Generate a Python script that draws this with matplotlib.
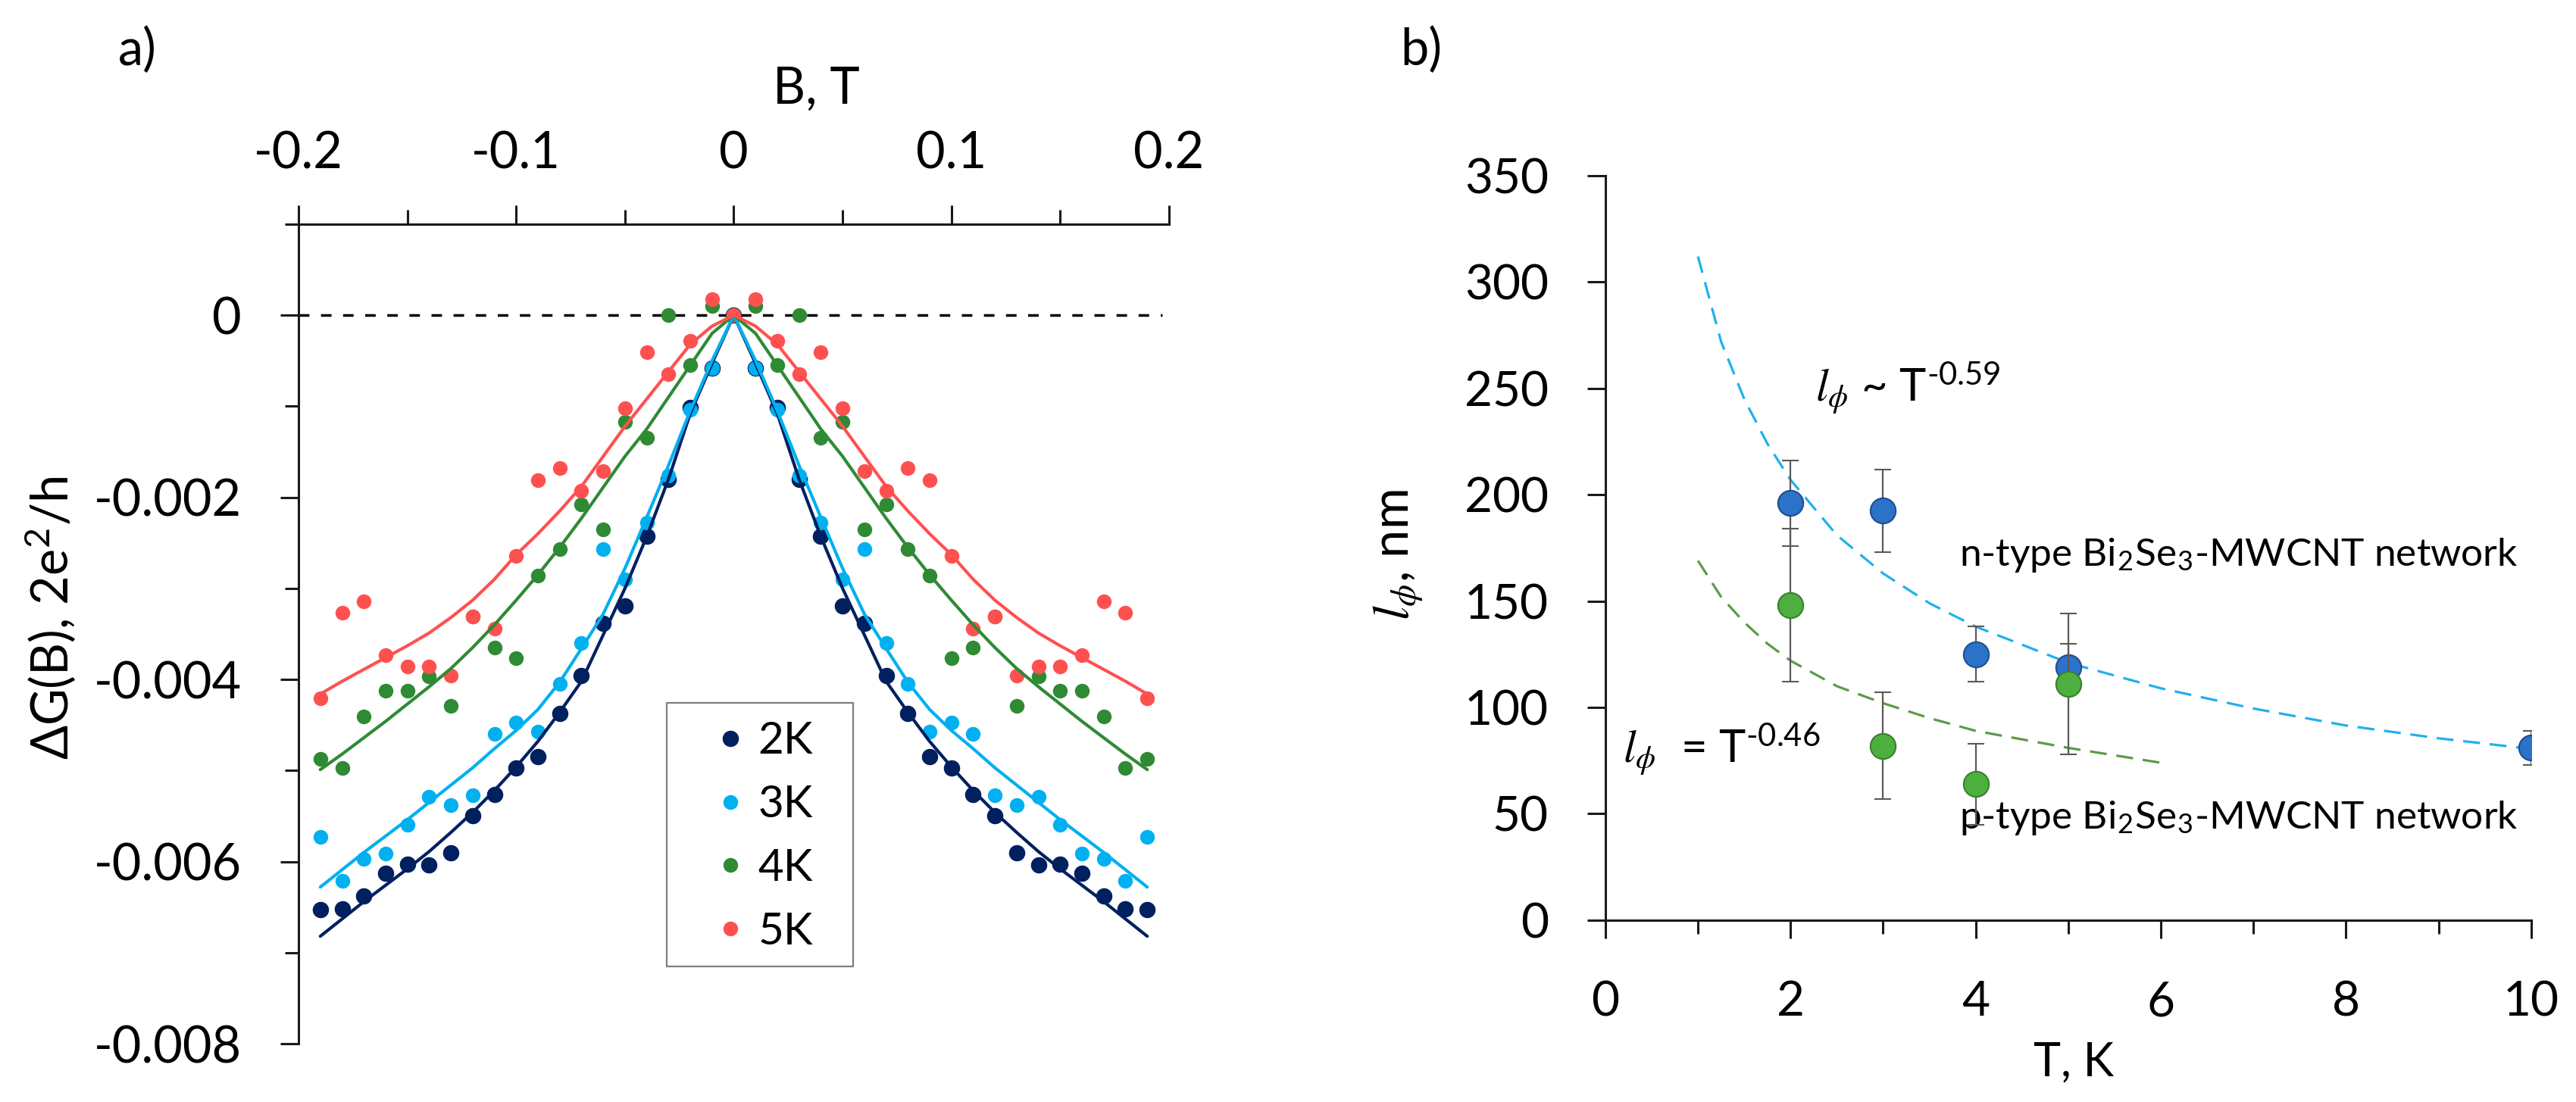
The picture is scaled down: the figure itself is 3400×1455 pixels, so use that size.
import matplotlib
matplotlib.use('Agg')
import matplotlib.pyplot as plt
import numpy as np
from matplotlib.lines import Line2D
from matplotlib.patches import Rectangle

plt.rcParams['font.family'] = ['Lato', 'DejaVu Sans']
plt.rcParams['mathtext.fontset'] = 'custom'
plt.rcParams['mathtext.rm'] = 'Lato'
plt.rcParams['mathtext.it'] = 'STIXGeneral:italic'
plt.rcParams['mathtext.bf'] = 'Lato:bold'
plt.rcParams['axes.unicode_minus'] = False

# ---- a) magnetoconductance dG(B), B = -0.19 ... 0.19 T in 0.01 steps
b_field = np.round(np.arange(-19, 20) * 0.01, 2)

dg_2k = [-0.00653, -0.00652, -0.00638, -0.00613, -0.00603, -0.00604, -0.00590, -0.00550, -0.00526, -0.00497,
         -0.00485, -0.00437, -0.00396, -0.00338, -0.00319, -0.00243, -0.00180, -0.00101, -0.00058, 0.0,
         -0.00058, -0.00101, -0.00180, -0.00243, -0.00319, -0.00338, -0.00396, -0.00437, -0.00485, -0.00497,
         -0.00526, -0.00550, -0.00590, -0.00604, -0.00603, -0.00613, -0.00638, -0.00652, -0.00653]
dg_3k = [-0.00573, -0.00621, -0.00597, -0.00591, -0.00560, -0.00529, -0.00538, -0.00527, -0.00460, -0.00447,
         -0.00457, -0.00405, -0.00360, -0.00257, -0.00290, -0.00228, -0.00176, -0.00104, -0.00058, 0.0,
         -0.00058, -0.00104, -0.00176, -0.00228, -0.00290, -0.00257, -0.00360, -0.00405, -0.00457, -0.00447,
         -0.00460, -0.00527, -0.00538, -0.00529, -0.00560, -0.00591, -0.00597, -0.00621, -0.00573]
dg_4k = [-0.00487, -0.00497, -0.00441, -0.00412, -0.00412, -0.00397, -0.00429, -0.00331, -0.00365, -0.00377,
         -0.00286, -0.00257, -0.00208, -0.00235, -0.00117, -0.00135, 0.0, -0.00055, 0.0001, 0.0,
         0.0001, -0.00055, 0.0, -0.00135, -0.00117, -0.00235, -0.00208, -0.00257, -0.00286, -0.00377,
         -0.00365, -0.00331, -0.00429, -0.00397, -0.00412, -0.00412, -0.00441, -0.00497, -0.00487]
dg_5k = [-0.00421, -0.00327, -0.00314, -0.00373, -0.00386, -0.00386, -0.00396, -0.00331, -0.00344, -0.00264,
         -0.00181, -0.00168, -0.00193, -0.00171, -0.00102, -0.00041, -0.00065, -0.00028, 0.00018, 0.0,
         0.00018, -0.00028, -0.00065, -0.00041, -0.00102, -0.00171, -0.00193, -0.00168, -0.00181, -0.00264,
         -0.00344, -0.00331, -0.00396, -0.00386, -0.00386, -0.00373, -0.00314, -0.00327, -0.00421]

fit_2k = [-0.00682, -0.00663, -0.00644, -0.00626, -0.00608, -0.00589, -0.00568, -0.00546, -0.00522, -0.00496,
          -0.00468, -0.00436, -0.00402, -0.00351, -0.00300, -0.00243, -0.00180, -0.00108, -0.00053, 0.0,
          -0.00053, -0.00108, -0.00180, -0.00243, -0.00300, -0.00351, -0.00402, -0.00436, -0.00468, -0.00496,
          -0.00522, -0.00546, -0.00568, -0.00589, -0.00608, -0.00626, -0.00644, -0.00663, -0.00682]
fit_3k = [-0.00628, -0.00609, -0.00590, -0.00572, -0.00554, -0.00535, -0.00516, -0.00497, -0.00476, -0.00456,
          -0.00433, -0.00403, -0.00366, -0.00328, -0.00278, -0.00222, -0.00165, -0.00105, -0.00050, 0.0,
          -0.00050, -0.00105, -0.00165, -0.00222, -0.00278, -0.00328, -0.00366, -0.00403, -0.00433, -0.00456,
          -0.00476, -0.00497, -0.00516, -0.00535, -0.00554, -0.00572, -0.00590, -0.00609, -0.00628]
fit_4k = [-0.00499, -0.00482, -0.00464, -0.00446, -0.00427, -0.00408, -0.00388, -0.00365, -0.00340, -0.00313,
          -0.00285, -0.00255, -0.00223, -0.00189, -0.00155, -0.00125, -0.00090, -0.00055, -0.00020, 0.0,
          -0.00020, -0.00055, -0.00090, -0.00125, -0.00155, -0.00189, -0.00223, -0.00255, -0.00285, -0.00313,
          -0.00340, -0.00365, -0.00388, -0.00408, -0.00427, -0.00446, -0.00464, -0.00482, -0.00499]
fit_5k = [-0.00416, -0.00402, -0.00389, -0.00376, -0.00363, -0.00349, -0.00332, -0.00313, -0.00290, -0.00263,
          -0.00240, -0.00215, -0.00188, -0.00155, -0.00122, -0.00092, -0.00062, -0.00032, -0.00012, 0.0,
          -0.00012, -0.00032, -0.00062, -0.00092, -0.00122, -0.00155, -0.00188, -0.00215, -0.00240, -0.00263,
          -0.00290, -0.00313, -0.00332, -0.00349, -0.00363, -0.00376, -0.00389, -0.00402, -0.00416]

temp_labels = ['2K', '3K', '4K', '5K']
temp_colors = ['#002060', '#00b0f0', '#2f8a34', '#ff5050']

b_ticks = [-0.2, -0.1, 0.0, 0.1, 0.2]
b_tick_labels = ['-0.2', '-0.1', '0', '0.1', '0.2']
g_ticks = [-0.008, -0.006, -0.004, -0.002, 0.0]
g_tick_labels = ['-0.008', '-0.006', '-0.004', '-0.002', '0']

# ---- b) phase coherence length vs temperature
t_n = [2, 3, 4, 5, 10]
lphi_n = [196, 192.5, 125, 119, 81]
err_n = [20, 19.5, 13, 11, 8]
t_p = [2, 3, 4, 5]
lphi_p = [148, 82, 64, 111]
err_p = [36, 25, 19, 33]

fit_t_n = [1, 1.25, 1.5, 1.75, 2, 2.5, 3, 3.5, 4, 5, 6, 7, 8, 9, 10]
fit_l_n = [312, 272, 245, 224, 207, 181, 163, 149, 138, 121, 109, 99.5, 91.5, 85.5, 80.5]
fit_t_p = [1, 1.25, 1.5, 1.75, 2, 2.5, 3, 3.5, 4, 5, 6]
fit_l_p = [169, 152, 140, 130, 122, 110, 102, 95, 89, 81, 74]

fig = plt.figure(figsize=(34, 14.55), dpi=100)
axis_col = '#1a1a1a'

# ================= panel a =================
ax1 = fig.add_axes([0.1159, 0.0529, 0.3379, 0.7437])
for vals, col in zip([dg_2k, dg_3k, dg_4k, dg_5k], temp_colors):
    ms = 15.5 if col == '#002060' else 14
    ax1.plot(b_field, vals, 'o', color=col, ms=ms, mec='none', zorder=3)
for vals, col in zip([fit_2k, fit_3k, fit_4k, fit_5k], temp_colors):
    ax1.plot(b_field, vals, '-', color=col, lw=3, zorder=4, solid_capstyle='round')
ax1.axhline(0, xmax=0.992, color='black', lw=2.5, dashes=(4, 4.4), zorder=2)

ax1.set_xlim(-0.2, 0.2)
ax1.set_ylim(-0.008, 0.001)
ax1.xaxis.tick_top()
ax1.set_xticks(b_ticks)
ax1.set_xticklabels(b_tick_labels)
ax1.set_xticks([-0.15, -0.05, 0.05, 0.15], minor=True)
ax1.set_yticks(g_ticks)
ax1.set_yticklabels(g_tick_labels)
ax1.set_yticks([-0.007, -0.005, -0.003, -0.001, 0.001], minor=True)
for s in ['bottom', 'right']:
    ax1.spines[s].set_visible(False)
for s in ['top', 'left']:
    ax1.spines[s].set_linewidth(2.2)
    ax1.spines[s].set_color(axis_col)
ax1.tick_params(axis='x', which='major', direction='out', length=18, width=2.2,
                pad=26, labelsize=48, color=axis_col)
ax1.tick_params(axis='x', which='minor', direction='out', length=14, width=2.2, color=axis_col)
ax1.tick_params(axis='y', which='major', direction='out', length=17, width=2.2,
                pad=37, labelsize=48, color=axis_col)
ax1.tick_params(axis='y', which='minor', direction='out', length=13, width=2.2, color=axis_col)
ax1.patch.set_alpha(0)

fig.text(1077 / 3400, 1 - 118 / 1455, 'B, T', fontsize=48, ha='center', va='center')
fig.text(66 / 3400, 1 - 816 / 1455, r'ΔG(B), 2e$^2$/h', fontsize=48, rotation=90,
         ha='center', va='center')
fig.text(181 / 3400, 1 - 67 / 1455, 'a)', fontsize=48, ha='center', va='center')

# legend: frame drawn separately
handles = [Line2D([], [], ls='none', marker='o', color=c, mec='none',
                  ms=(15.5 if c == '#002060' else 14)) for c in temp_colors]
fig.legend(handles, temp_labels, loc='upper left', bbox_to_anchor=(941 / 3400, 1 - 952 / 1455),
           bbox_transform=fig.transFigure, frameon=False, fontsize=42, borderpad=0,
           borderaxespad=0, handlelength=0.8, handletextpad=0.22, labelspacing=0.53)
fig.patches.append(Rectangle((880 / 3400, 1 - 1276 / 1455), 246 / 3400, 348 / 1455,
                             transform=fig.transFigure, fill=False, ec='#7f7f7f', lw=1.6))

# ================= panel b =================
ax2 = fig.add_axes([0.6232, 0.165, 0.3594, 0.6756])
ax2.plot(fit_t_n, fit_l_n, color='#1fb0ef', lw=2.3, dashes=(7, 4), zorder=2)
ax2.plot(fit_t_p, fit_l_p, color='#5c9a48', lw=2.3, dashes=(7, 4), zorder=2)
ax2.errorbar(t_n, lphi_n, yerr=err_n, fmt='o', ms=24, mfc='#2b72c9', mec='#1f4e8c', mew=1.5,
             ecolor='#5a5a5a', elinewidth=1.6, capsize=8, capthick=1.6, zorder=4)
ax2.errorbar(t_p, lphi_p, yerr=err_p, fmt='o', ms=24, mfc='#4caf3e', mec='#3b7f2c', mew=1.5,
             ecolor='#5a5a5a', elinewidth=1.6, capsize=8, capthick=1.6, zorder=5)

ax2.set_xlim(0, 10)
ax2.set_ylim(0, 350)
ax2.set_xticks(range(0, 11, 2))
ax2.set_xticks(range(1, 10, 2), minor=True)
ax2.set_yticks(range(0, 351, 50))
for s in ['top', 'right']:
    ax2.spines[s].set_visible(False)
for s in ['bottom', 'left']:
    ax2.spines[s].set_linewidth(2.2)
    ax2.spines[s].set_color(axis_col)
ax2.tick_params(axis='x', which='major', direction='out', length=17, width=2.2,
                pad=40, labelsize=46, color=axis_col)
ax2.tick_params(axis='x', which='minor', direction='out', length=13, width=2.2, color=axis_col)
ax2.tick_params(axis='y', which='major', direction='out', length=17, width=2.2,
                pad=37, labelsize=46, color=axis_col)
ax2.patch.set_alpha(0)

ax2.text(2.27, 244, r'$l_\phi$ ~ T$^{\text{-0.59}}$', fontsize=43, va='baseline')
ax2.text(0.19, 74, r'$l_\phi$  = T$^{\text{-0.46}}$', fontsize=43, va='baseline')
ax2.text(3.82, 166.7, r'n-type Bi$_2$Se$_3$-MWCNT network', fontsize=37, va='baseline')
ax2.text(3.82, 42.9, r'p-type Bi$_2$Se$_3$-MWCNT network', fontsize=37, va='baseline')

fig.text(2737 / 3400, 1 - 1403 / 1455, 'T, K', fontsize=44, ha='center', va='center')
fig.text(1846 / 3400, 1 - 733 / 1455, r'$l_\phi$, nm', fontsize=48, rotation=90,
         ha='center', va='center')
fig.text(1876 / 3400, 1 - 67 / 1455, 'b)', fontsize=48, ha='center', va='center')

fig.savefig('out.png', dpi=100)
